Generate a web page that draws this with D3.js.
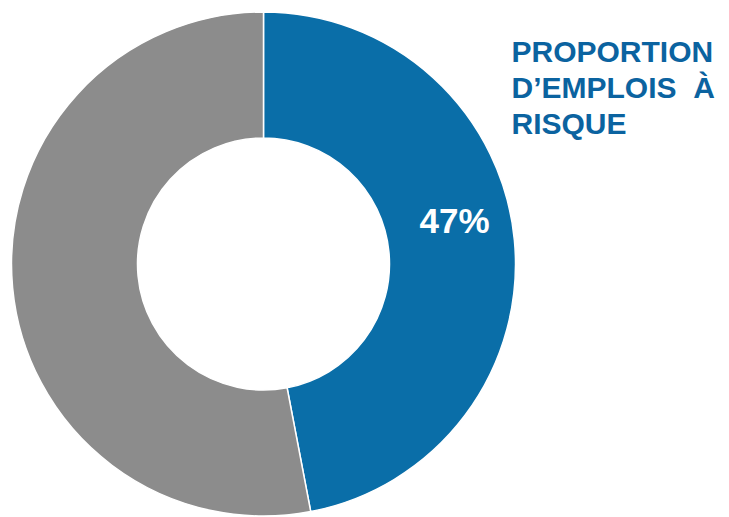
<!DOCTYPE html>
<html>
<head>
<meta charset="utf-8">
<script src="https://cdn.jsdelivr.net/npm/d3@7"></script>
<style>
  html, body { margin: 0; padding: 0; background: #fff; }
  svg { display: block; }
</style>
</head>
<body>
<svg id="chart" width="729" height="517"></svg>
<script>
// Share of jobs at risk vs. the rest
const categories = ["À risque", "Autres"];
const values = [47, 53];
const colors = ["#0a6ea8", "#8c8c8c"];
const titleLines = ["PROPORTION", "D’EMPLOIS  À", "RISQUE"];
const valueLabel = "47%";

const svg = d3.select("#chart");
const cx = 263.5, cy = 264;
const outerR = 252, innerR = 126;

const pie = d3.pie().sort(null).value(d => d.value);
const arcs = pie(categories.map((c, i) => ({ name: c, value: values[i], color: colors[i] })));
const arc = d3.arc().innerRadius(innerR).outerRadius(outerR);

const g = svg.append("g").attr("transform", `translate(${cx},${cy})`);
g.selectAll("path")
  .data(arcs)
  .join("path")
  .attr("d", arc)
  .attr("fill", d => d.data.color)
  .attr("stroke", "#fff")
  .attr("stroke-width", 1.5);

// Value label on the first slice
g.append("text")
  .attr("x", 191)
  .attr("y", -31)
  .attr("text-anchor", "middle")
  .attr("fill", "#fff")
  .attr("font-family", "Liberation Sans, Arial, sans-serif")
  .attr("font-weight", "bold")
  .attr("font-size", 35)
  .text(valueLabel);

// Title block
const title = svg.append("text")
  .attr("font-family", "Liberation Sans, Arial, sans-serif")
  .attr("font-weight", "bold")
  .attr("font-size", 30)
  .attr("fill", "#0b63a0")
  .style("white-space", "pre");
titleLines.forEach((t, i) => {
  title.append("tspan")
    .attr("x", 511.5)
    .attr("y", 61.5 + i * 36)
    .text(t);
});
</script>
</body>
</html>
